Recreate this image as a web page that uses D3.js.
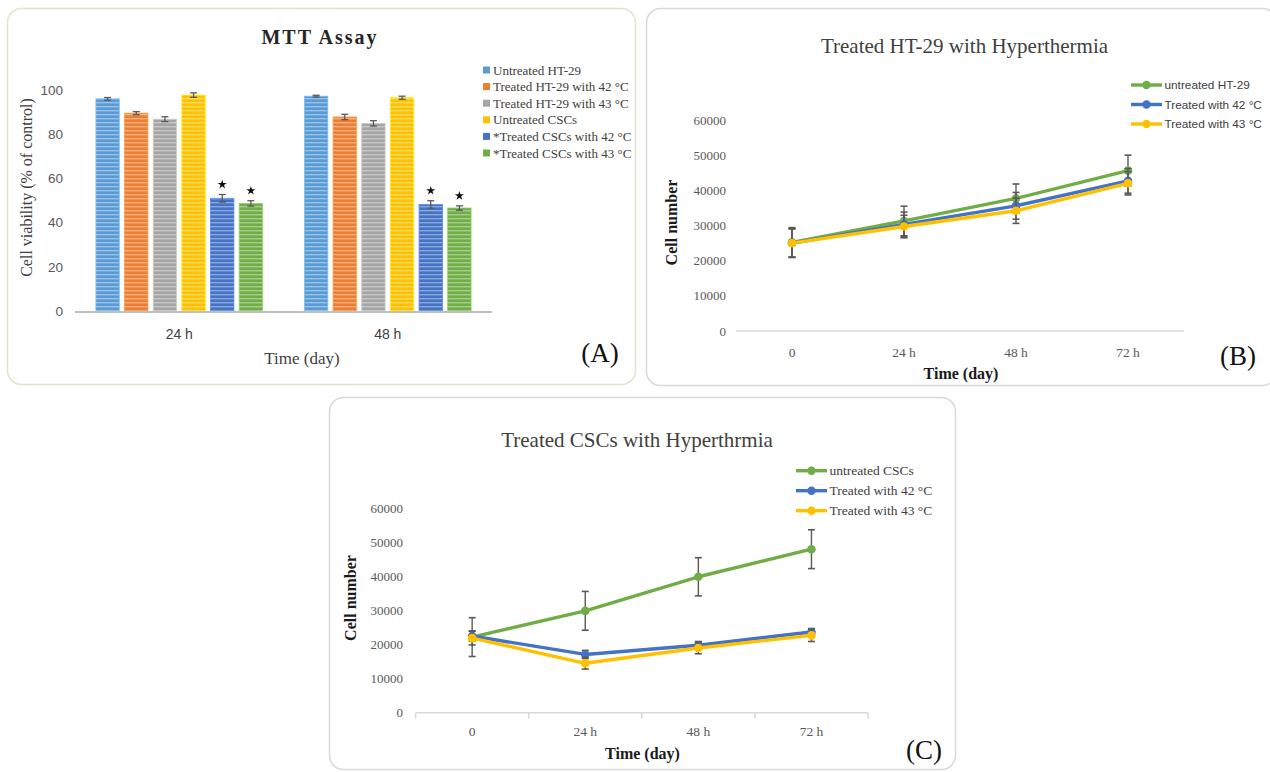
<!DOCTYPE html>
<html>
<head>
<meta charset="utf-8">
<script src="https://cdn.jsdelivr.net/npm/d3@7"></script>
<style>
  html, body { margin: 0; padding: 0; background: #ffffff; }
  svg { display: block; }
</style>
</head>
<body>
<svg id="chart" width="1270" height="772"></svg>
<script>
// ---------------- DATA ----------------
// Panel A: MTT assay
const mttGroups = ["24 h", "48 h"];
const mttSeries = ["Untreated HT-29", "Treated HT-29 with 42 °C", "Treated HT-29 with 43 °C",
                   "Untreated CSCs", "*Treated CSCs with 42 °C", "*Treated CSCs with 43 °C"];
const mtt24 = [96.0, 89.5, 86.8, 97.7, 51.0, 48.7];
const mtt24Err = [0.6, 0.7, 1.1, 1.0, 1.7, 1.2];
const mtt48 = [97.2, 87.8, 84.9, 96.5, 48.2, 46.6];
const mtt48Err = [0.4, 1.2, 1.2, 0.7, 1.7, 1.0];
const mttSignificant = [false, false, false, false, true, true];
const mttTicks = [0, 20, 40, 60, 80, 100];

// Panels B and C: cell numbers
const timePoints = ["0", "24 h", "48 h", "72 h"];
const cellTicks = [0, 10000, 20000, 30000, 40000, 50000, 60000];

const htSeries = ["untreated HT-29", "Treated with 42 °C", "Treated with 43 °C"];
const htUntreated = [25200, 31300, 37700, 45600];
const htUntreatedErr = [4200, 4200, 4100, 4400];
const ht42 = [25000, 30300, 35600, 42700];
const ht42Err = [4000, 3500, 3800, 3500];
const ht43 = [25000, 29700, 34200, 42000];
const ht43Err = [4100, 3200, 3600, 3300];

const cscSeries = ["untreated CSCs", "Treated with 42 °C", "Treated with 43 °C"];
const cscUntreated = [22200, 29900, 39900, 48000];
const cscUntreatedErr = [5700, 5700, 5600, 5700];
const csc42 = [22500, 17100, 19800, 23700];
const csc42Err = [1500, 1200, 1100, 1000];
const csc43 = [21900, 14500, 19000, 22700];
const csc43Err = [2000, 1700, 1700, 1800];

// ---------------- STYLE ----------------
const barColors = ["#5B9BD5", "#ED7D31", "#A5A5A5", "#FFC000", "#4472C4", "#70AD47"];
const lineColors = ["#70AD47", "#4472C4", "#FFC000"];
const serif = "'Liberation Serif', 'Times New Roman', serif";
const sans = "'Liberation Sans', Arial, sans-serif";
const errColor = "#595959";

const svg = d3.select("#chart");
const defs = svg.append("defs");

// striped patterns for bars
barColors.forEach((c, i) => {
  const p = defs.append("pattern")
    .attr("id", "stripe" + i)
    .attr("patternUnits", "userSpaceOnUse")
    .attr("width", 8).attr("height", 4);
  p.append("rect").attr("width", 8).attr("height", 4).attr("fill", c);
  p.append("rect").attr("y", 2).attr("width", 8).attr("height", 1.4)
    .attr("fill", "#ffffff").attr("opacity", 0.38);
});

// ---------------- FRAMES ----------------
svg.append("rect").attr("x", 7.5).attr("y", 8.5).attr("width", 628).attr("height", 376)
  .attr("rx", 14).attr("fill", "#fff").attr("stroke", "#e3e3cf").attr("stroke-width", 1.5);
svg.append("rect").attr("x", 646.5).attr("y", 8.5).attr("width", 630).attr("height", 377)
  .attr("rx", 14).attr("fill", "#fff").attr("stroke", "#d9d9d9").attr("stroke-width", 1.5);
svg.append("rect").attr("x", 329.5).attr("y", 397.5).attr("width", 626).attr("height", 372)
  .attr("rx", 14).attr("fill", "#fff").attr("stroke", "#d9d9d9").attr("stroke-width", 1.5);

// ---------------- PANEL A ----------------
(function () {
  const g = svg.append("g");
  const y = d3.scaleLinear().domain([0, 100]).range([311, 90]);
  const x0 = d3.scaleBand().domain(mttGroups).range([75, 492]).paddingInner(0).paddingOuter(0);
  const x1 = d3.scaleBand().domain(d3.range(mttSeries.length)).range([0, x0.bandwidth()])
    .paddingInner(0.184).paddingOuter(0.73);
  const vals = { "24 h": [mtt24, mtt24Err], "48 h": [mtt48, mtt48Err] };

  // title
  g.append("text").attr("x", 320).attr("y", 44).attr("text-anchor", "middle")
    .attr("font-family", serif).attr("font-weight", "bold").attr("font-size", 20)
    .attr("letter-spacing", 2).attr("fill", "#262626").text("MTT Assay");

  // y ticks
  g.selectAll(".ytA").data(mttTicks).join("text")
    .attr("x", 63).attr("y", d => y(d)).attr("dy", "0.35em").attr("text-anchor", "end")
    .attr("font-family", sans).attr("font-size", 13.5).attr("fill", "#595959").text(d => d);

  // bars
  mttGroups.forEach(grp => {
    const [v, e] = vals[grp];
    const gg = g.append("g").attr("transform", `translate(${x0(grp)},0)`);
    gg.selectAll("rect").data(v).join("rect")
      .attr("x", (d, i) => x1(i)).attr("width", x1.bandwidth())
      .attr("y", d => y(d)).attr("height", d => y(0) - y(d))
      .attr("fill", (d, i) => `url(#stripe${i})`)
      .attr("stroke", (d, i) => d3.color(barColors[i]).brighter(0.6)).attr("stroke-width", 0.8);
    // error bars
    v.forEach((d, i) => {
      const cx = x1(i) + x1.bandwidth() / 2;
      const top = y(d + e[i]), bot = y(d - e[i]);
      gg.append("line").attr("x1", cx).attr("x2", cx).attr("y1", top).attr("y2", bot)
        .attr("stroke", errColor).attr("stroke-width", 1.3);
      [top, bot].forEach(yy => gg.append("line").attr("x1", cx - 3.5).attr("x2", cx + 3.5)
        .attr("y1", yy).attr("y2", yy).attr("stroke", errColor).attr("stroke-width", 1.3));
      if (mttSignificant[i]) {
        gg.append("path").attr("d", d3.symbol(d3.symbolStar, 26)())
          .attr("transform", `translate(${cx},${top - 10})`).attr("fill", "#111");
      }
    });
    g.append("text").attr("x", x0(grp) + x0.bandwidth() / 2).attr("y", 339)
      .attr("text-anchor", "middle").attr("font-family", sans).attr("font-size", 14)
      .attr("fill", "#404040").text(grp);
  });

  // x axis line
  g.append("line").attr("x1", x0.range()[0]).attr("x2", x0.range()[1])
    .attr("y1", y(0) + 1).attr("y2", y(0) + 1).attr("stroke", "#bfbfbf").attr("stroke-width", 2.2);

  // axis titles
  g.append("text").attr("transform", "translate(32,187.5) rotate(-90)").attr("text-anchor", "middle")
    .attr("font-family", serif).attr("font-size", 16).attr("fill", "#404040")
    .text("Cell viability (% of control)");
  g.append("text").attr("x", 302).attr("y", 364).attr("text-anchor", "middle")
    .attr("font-family", serif).attr("font-size", 17).attr("fill", "#404040").text("Time (day)");
  g.append("text").attr("x", 600).attr("y", 362).attr("text-anchor", "middle")
    .attr("font-family", serif).attr("font-size", 27).attr("fill", "#111").text("(A)");

  // legend
  const leg = g.append("g");
  mttSeries.forEach((s, i) => {
    const yy = 70 + i * 16.6;
    leg.append("rect").attr("x", 483).attr("y", yy - 3.5).attr("width", 7).attr("height", 7)
      .attr("fill", barColors[i]);
    leg.append("text").attr("x", 493).attr("y", yy).attr("dy", "0.35em")
      .attr("font-family", serif).attr("font-size", 13).attr("fill", "#404040").text(s);
  });
})();

// ---------------- LINE PANELS ----------------
function linePanel(opt) {
  const g = svg.append("g");
  const y = d3.scaleLinear().domain([0, 60000]).range([opt.y0, opt.y60]);
  const x = d3.scaleBand().domain(timePoints).range([opt.xl, opt.xr]);
  const cx = d => x(d) + x.bandwidth() / 2;

  g.append("text").attr("x", opt.titleX).attr("y", opt.titleY).attr("text-anchor", "middle")
    .attr("font-family", serif).attr("font-size", 21).attr("fill", "#404040").text(opt.title);

  g.selectAll(".yt").data(cellTicks).join("text")
    .attr("x", opt.tickX).attr("y", d => y(d)).attr("dy", "0.35em").attr("text-anchor", "end")
    .attr("font-family", serif).attr("font-size", 13).attr("fill", "#595959").text(d => d);

  g.append("line").attr("x1", opt.xl).attr("x2", opt.xr).attr("y1", y(0)).attr("y2", y(0))
    .attr("stroke", "#d9d9d9").attr("stroke-width", 1.5);
  if (opt.ticks) {
    const bounds = timePoints.map(t => x(t)).concat([opt.xr]);
    g.selectAll(".xt").data(bounds).join("line")
      .attr("x1", d => d).attr("x2", d => d).attr("y1", y(0)).attr("y2", y(0) + 6)
      .attr("stroke", "#d9d9d9").attr("stroke-width", 1.5);
  }

  g.selectAll(".xl").data(timePoints).join("text")
    .attr("x", d => cx(d)).attr("y", opt.xLabelY).attr("text-anchor", "middle")
    .attr("font-family", serif).attr("font-size", 13.5).attr("fill", "#595959").text(d => d);

  g.append("text").attr("x", opt.xTitleX).attr("y", opt.xTitleY).attr("text-anchor", "middle")
    .attr("font-family", serif).attr("font-weight", "bold").attr("font-size", 16)
    .attr("fill", "#1a1a1a").text("Time (day)");
  g.append("text").attr("transform", `translate(${opt.yTitleX},${opt.yTitleY}) rotate(-90)`)
    .attr("text-anchor", "middle").attr("dy", "0.35em")
    .attr("font-family", serif).attr("font-weight", "bold").attr("font-size", 16)
    .attr("fill", "#1a1a1a").text("Cell number");
  g.append("text").attr("x", opt.tagX).attr("y", opt.tagY).attr("text-anchor", "middle")
    .attr("font-family", serif).attr("font-size", 27).attr("fill", "#111").text(opt.tag);

  const line = d3.line().x((d, i) => cx(timePoints[i])).y(d => y(d));
  opt.series.forEach((s, k) => {
    const vals = s.values, errs = s.errors;
    const sg = g.append("g");
    vals.forEach((v, i) => {
      const px = cx(timePoints[i]);
      const top = y(v + errs[i]), bot = y(v - errs[i]);
      sg.append("line").attr("x1", px).attr("x2", px).attr("y1", top).attr("y2", bot)
        .attr("stroke", errColor).attr("stroke-width", 1.4);
      [top, bot].forEach(yy => sg.append("line").attr("x1", px - 3.5).attr("x2", px + 3.5)
        .attr("y1", yy).attr("y2", yy).attr("stroke", errColor).attr("stroke-width", 1.6));
    });
    sg.append("path").attr("d", line(vals)).attr("fill", "none")
      .attr("stroke", lineColors[k]).attr("stroke-width", 3.4).attr("stroke-linejoin", "round");
    sg.selectAll("circle").data(vals).join("circle")
      .attr("cx", (d, i) => cx(timePoints[i])).attr("cy", d => y(d)).attr("r", 4.3)
      .attr("fill", lineColors[k]);
  });

  // legend
  opt.series.forEach((s, k) => {
    const yy = opt.legY + k * opt.legStep;
    g.append("line").attr("x1", opt.legX).attr("x2", opt.legX + 31).attr("y1", yy).attr("y2", yy)
      .attr("stroke", lineColors[k]).attr("stroke-width", 3.4);
    g.append("circle").attr("cx", opt.legX + 15.5).attr("cy", yy).attr("r", 4.2).attr("fill", lineColors[k]);
    g.append("text").attr("x", opt.legX + 33.5).attr("y", yy).attr("dy", "0.35em")
      .attr("font-family", opt.legFont).attr("font-size", opt.legSize).attr("fill", "#404040").text(s.name);
  });
}

linePanel({
  title: "Treated HT-29 with Hyperthermia", titleX: 964.5, titleY: 53,
  y0: 331, y60: 120, xl: 736, xr: 1184, tickX: 726, ticks: false,
  xLabelY: 357, xTitleX: 961, xTitleY: 379, yTitleX: 671, yTitleY: 222.5,
  tag: "(B)", tagX: 1238, tagY: 365,
  legX: 1131, legY: 85, legStep: 19.5, legFont: sans, legSize: 11.8,
  series: [
    { name: htSeries[0], values: htUntreated, errors: htUntreatedErr },
    { name: htSeries[1], values: ht42, errors: ht42Err },
    { name: htSeries[2], values: ht43, errors: ht43Err }
  ]
});

linePanel({
  title: "Treated CSCs with Hyperthrmia", titleX: 637, titleY: 447,
  y0: 712.7, y60: 508.3, xl: 415.6, xr: 868, tickX: 403, ticks: true,
  xLabelY: 736, xTitleX: 642.5, xTitleY: 759, yTitleX: 350, yTitleY: 598,
  tag: "(C)", tagX: 924, tagY: 759,
  legX: 796, legY: 470.7, legStep: 20, legFont: serif, legSize: 13.5,
  series: [
    { name: cscSeries[0], values: cscUntreated, errors: cscUntreatedErr },
    { name: cscSeries[1], values: csc42, errors: csc42Err },
    { name: cscSeries[2], values: csc43, errors: csc43Err }
  ]
});
</script>
</body>
</html>
